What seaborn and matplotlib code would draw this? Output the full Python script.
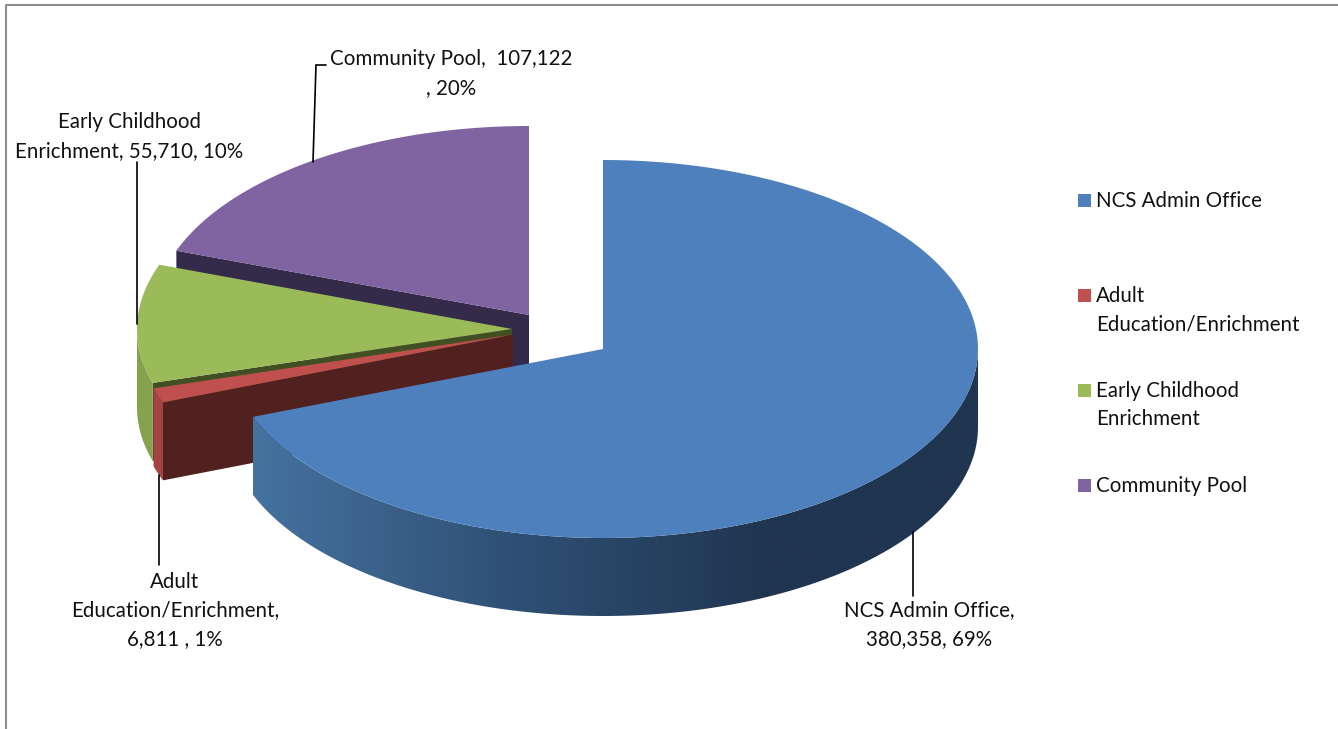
import numpy as np
import matplotlib
matplotlib.use("Agg")
import matplotlib.pyplot as plt
from matplotlib.patches import Polygon, Rectangle
import seaborn as sns

# Revenue split by program
categories = ["NCS Admin Office", "Adult Education/Enrichment",
              "Early Childhood Enrichment", "Community Pool"]
values = [380358, 6811, 55710, 107122]

legend_labels = ["NCS Admin Office", "Adult\nEducation/Enrichment",
                 "Early Childhood\nEnrichment", "Community Pool"]
data_labels = ["NCS Admin Office,\n380,358, 69%",
               "Adult\nEducation/Enrichment,\n6,811 , 1%",
               "Early Childhood\nEnrichment, 55,710, 10%",
               "Community Pool,  107,122\n, 20%"]

top_colors = ["#4d80bc", "#c0504d", "#9bbb59", "#8064a2"]
rim_colors = [None, "#a34442", "#86a24c", None]
cut_colors = [None, "#51211f", "#414f23", "#342a49"]

# Tilted-pie projection, in pixels
RX, RY, DEPTH = 375, 189, 78
APEX = [(603, 349), (513, 334.5), (512, 329), (529, 315)]


def project(theta, apex, drop=0.0):
    t = np.radians(theta)
    return np.column_stack([apex[0] + RX * np.sin(t),
                            apex[1] - RY * np.cos(t) + drop])


def arc(a, b, apex, drop=0.0):
    return project(np.linspace(a, b, 240), apex, drop)


sns.set_theme(style="white")
plt.rcParams["font.family"] = ["Lato", "DejaVu Sans"]
TEXT = dict(fontsize=14.8, color="#111111", linespacing=1.56)

fig = plt.figure(figsize=(13.38, 7.29), dpi=100)
ax = fig.add_axes([0, 0, 1, 1])
ax.axis("off")

# Outer frame
ax.plot([6, 6, 1338], [729, 5, 5], color="#8c8c8c", lw=1.5, zorder=1)

edges = np.concatenate([[0], np.cumsum(values)]) / sum(values) * 360
blue_side = sns.blend_palette(["#45729f", "#2f5075", "#1f3550"], 256)

# Back slices first so nearer ones overlap them
for i in [3, 2, 1, 0]:
    a, b = edges[i], edges[i + 1]
    apex = APEX[i]
    if cut_colors[i]:
        start = project(a, apex)[0]
        quad = [apex, start, start + [0, DEPTH], (apex[0], apex[1] + DEPTH)]
        ax.add_patch(Polygon(quad, fc=cut_colors[i], ec="none", zorder=2 + 3 - i))
    lo, hi = max(a, 90), min(b, 270)
    if hi > lo:
        upper = arc(lo, hi, apex)
        rim_pts = np.vstack([upper, upper[::-1] + [0, DEPTH]])
        if i == 0:
            # Shaded rim: a horizontal gradient clipped to the rim outline
            rim = Polygon(rim_pts, fc="none", ec="none", zorder=2 + 3 - i)
            ax.add_patch(rim)
            gradient = np.array(blue_side)[None, :, :]
            left, right = rim_pts[:, 0].min(), 770
            img = ax.imshow(np.concatenate(
                                [gradient, np.tile(gradient[:, -1:, :], (1, 128, 1))], axis=1),
                            extent=(left, right + (right - left) / 2, rim_pts[:, 1].max(),
                                    rim_pts[:, 1].min()),
                            aspect="auto", interpolation="bilinear", zorder=2 + 3 - i)
            img.set_clip_path(rim)
        else:
            ax.add_patch(Polygon(rim_pts, fc=rim_colors[i], ec="none", zorder=2 + 3 - i))
    top = np.vstack([[apex], arc(a, b, apex)])
    ax.add_patch(Polygon(top, fc=top_colors[i], ec="none", zorder=2.5 + 3 - i))

# Leader lines
leaders = [([913, 913], [532, 596]),
           ([159, 159], [475, 565]),
           ([137, 137], [324, 162]),
           ([313, 316, 326], [162, 65, 65])]
for xs, ys in leaders:
    ax.plot(xs, ys, color="black", lw=1.2, zorder=8, solid_joinstyle="miter")

# Data labels
label_pos = [(929, 625), (175, 610.5), (129, 136.5), (451, 73.5)]
for text, (x, y) in zip(data_labels, label_pos):
    ax.text(x, y, text, ha="center", va="center", zorder=9, **TEXT)

# Legend keys and entries
key_tops = [194, 289, 384, 479]
for color, label, y in zip(top_colors, legend_labels, key_tops):
    ax.add_patch(Rectangle((1078, y), 13, 13, fc=color, ec="none"))
    n = label.count("\n")
    ax.text(1096, y + 6.5 + n * 14.5, label, ha="left", va="center", **TEXT)

ax.set_xlim(0, 1338)
ax.set_ylim(729, 0)
fig.savefig("out.png", dpi=100)
